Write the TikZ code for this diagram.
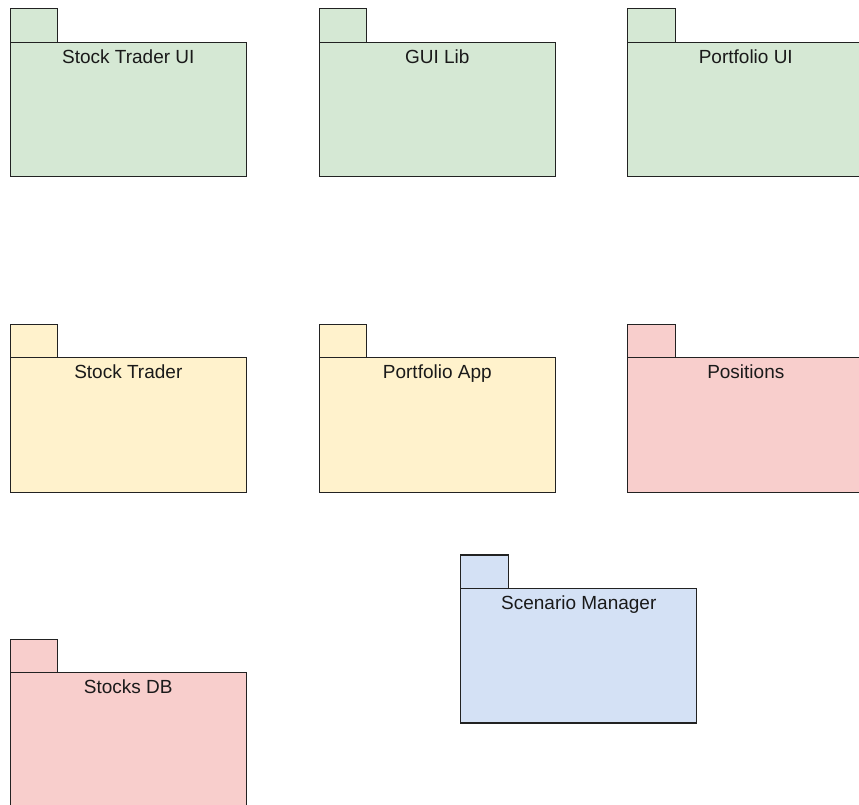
\documentclass[tikz,border=0pt]{standalone}
\usepackage{fontspec}
\setmainfont{Liberation Sans}
\definecolor{gfill}{HTML}{D5E8D4}
\definecolor{yfill}{HTML}{FFF2CC}
\definecolor{rfill}{HTML}{F8CECC}
\definecolor{bfill}{HTML}{D4E1F5}
\definecolor{edge}{HTML}{222222}
\definecolor{txt}{HTML}{1A1A1A}
\begin{document}
\begin{tikzpicture}[x=1pt,y=-1pt,
  pbody/.style={draw=edge, line width=1.2pt, minimum width=236pt, minimum height=134.5pt, anchor=north west, inner sep=0pt, outer sep=0pt},
  ptab/.style={draw=edge, line width=1.2pt, minimum width=47.5pt, minimum height=33.5pt, anchor=south west, inner sep=0pt, outer sep=0pt},
  plbl/.style={font=\fontsize{19}{22}\selectfont, text=txt, anchor=base}]
\useasboundingbox (0,0) rectangle (859,805);
% row 1
\node[ptab, fill=gfill] (t1) at (10.3,42.3) {};
\node[pbody, fill=gfill] (b1) at (10.3,42.3) {};
\node[plbl] (l1) at ([yshift=-21pt]b1.north) {Stock Trader UI};
\node[ptab, fill=gfill] (t2) at (319.3,42.3) {};
\node[pbody, fill=gfill] (b2) at (319.3,42.3) {};
\node[plbl] (l2) at ([yshift=-21pt]b2.north) {GUI Lib};
\node[ptab, fill=gfill] (t3) at (627.8,42.3) {};
\node[pbody, fill=gfill] (b3) at (627.8,42.3) {};
\node[plbl] (l3) at ([yshift=-21pt]b3.north) {Portfolio UI};
% row 2
\node[ptab, fill=yfill] (t4) at (10.3,357.7) {};
\node[pbody, fill=yfill] (b4) at (10.3,357.7) {};
\node[plbl] (l4) at ([yshift=-21pt]b4.north) {Stock Trader};
\node[ptab, fill=yfill] (t5) at (319.3,357.7) {};
\node[pbody, fill=yfill] (b5) at (319.3,357.7) {};
\node[plbl] (l5) at ([yshift=-21pt]b5.north) {Portfolio App};
\node[ptab, fill=rfill] (t6) at (627.8,357.7) {};
\node[pbody, fill=rfill] (b6) at (627.8,357.7) {};
\node[plbl] (l6) at ([yshift=-21pt]b6.north) {Positions};
% row 3
\node[ptab, fill=bfill] (t7) at (460.8,588.5) {};
\node[pbody, fill=bfill] (b7) at (460.8,588.5) {};
\node[plbl] (l7) at ([yshift=-21pt]b7.north) {Scenario Manager};
% row 4
\node[ptab, fill=rfill] (t8) at (10.3,672.6) {};
\node[pbody, fill=rfill] (b8) at (10.3,672.6) {};
\node[plbl] (l8) at ([yshift=-21pt]b8.north) {Stocks DB};
\end{tikzpicture}
\end{document}
